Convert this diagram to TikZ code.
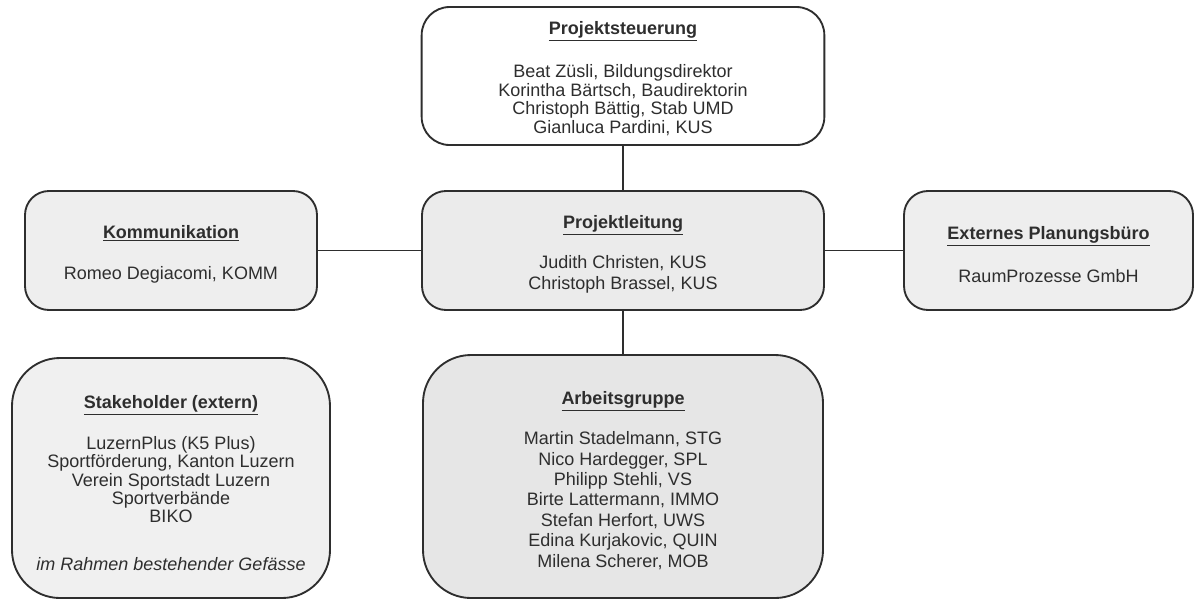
\documentclass[tikz,border=0pt]{standalone}
\usepackage{fontspec}
\setmainfont{Liberation Sans}
\begin{document}
\begin{tikzpicture}[x=0.75pt,y=-0.75pt]
\definecolor{edgecol}{HTML}{2E2E2E}
\definecolor{txtcol}{HTML}{2E2E2E}
\definecolor{fillA}{HTML}{EEEEEE}
\definecolor{fillB}{HTML}{EBEBEB}
\definecolor{fillC}{HTML}{F0F0F0}
\definecolor{fillD}{HTML}{E6E6E6}
\tikzset{
  box/.style={draw=edgecol, line width=1.4pt, inner sep=0pt},
  label text/.style={align=center, text=txtcol, inner sep=0pt, yshift=-3pt},
  conn/.style={draw=edgecol, line width=1.4pt}
}
\useasboundingbox (0,0) rectangle (1195,601);

% boxes
\node[box, fill=white, minimum width=302pt, minimum height=103.5pt, rounded corners=21pt] (ps) at (623,76) {};
\node[box, fill=fillB, minimum width=301.5pt, minimum height=89.25pt, rounded corners=18pt] (pl) at (623,250.5) {};
\node[box, fill=fillA, minimum width=219pt, minimum height=89.25pt, rounded corners=18pt] (komm) at (171,250.5) {};
\node[box, fill=fillA, minimum width=216.75pt, minimum height=89.25pt, rounded corners=18pt] (ext) at (1048.5,250.5) {};
\node[box, fill=fillC, minimum width=238.5pt, minimum height=180pt, rounded corners=36pt] (sh) at (171,478) {};
\node[box, fill=fillD, minimum width=300pt, minimum height=182.25pt, rounded corners=36pt] (ag) at (623,476.5) {};

% texts
\node[label text, font=\fontsize{13.5}{14}\selectfont, yshift=1pt] (ps-t) at (ps.center)
  {\underline{\textbf{Projektsteuerung}}\\[16.75pt]
   Beat Züsli, Bildungsdirektor\\
   Korintha Bärtsch, Baudirektorin\\
   Christoph Bättig, Stab UMD\\
   Gianluca Pardini, KUS};

\node[label text, font=\fontsize{13.5}{15.75}\selectfont] (pl-t) at (pl.center)
  {\underline{\textbf{Projektleitung}}\\[14.25pt]
   Judith Christen, KUS\\
   Christoph Brassel, KUS};

\node[label text, font=\fontsize{13.5}{14}\selectfont] (komm-t) at (komm.center)
  {\underline{\textbf{Kommunikation}}\\[16.75pt]
   Romeo Degiacomi, KOMM};

\node[label text, font=\fontsize{13.5}{14}\selectfont] (ext-t) at (ext.center)
  {\underline{\textbf{Externes Planungsbüro}}\\[16pt]
   RaumProzesse GmbH};

\node[label text, font=\fontsize{13.5}{13.7}\selectfont, yshift=-0.8pt] (sh-t) at (sh.center)
  {\underline{\textbf{Stakeholder (extern)}}\\[15.5pt]
   LuzernPlus (K5 Plus)\\
   Sportförderung, Kanton Luzern\\
   Verein Sportstadt Luzern\\
   Sportverbände\\
   BIKO\\[22.3pt]
   \textit{im Rahmen bestehender Gefässe}};

\node[label text, font=\fontsize{13.5}{15.3}\selectfont] (ag-t) at (ag.center)
  {\underline{\textbf{Arbeitsgruppe}}\\[14.7pt]
   Martin Stadelmann, STG\\
   Nico Hardegger, SPL\\
   Philipp Stehli, VS\\
   Birte Lattermann, IMMO\\
   Stefan Herfort, UWS\\
   Edina Kurjakovic, QUIN\\
   Milena Scherer, MOB};

% connectors
\draw[conn] (ps.south) -- (pl.north);
\draw[conn] (komm.east) -- (pl.west);
\draw[conn] (pl.east) -- (ext.west);
\draw[conn] (pl.south) -- (ag.north);
\end{tikzpicture}
\end{document}
